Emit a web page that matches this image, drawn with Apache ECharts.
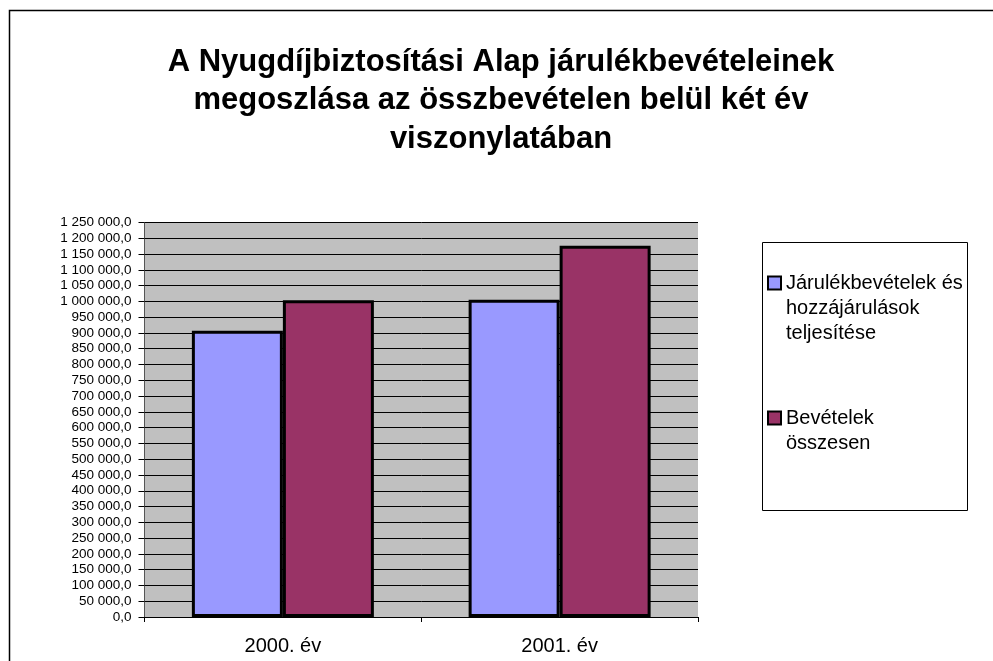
<!DOCTYPE html>
<html>
<head>
<meta charset="utf-8">
<title>Nyugdíjbiztosítási Alap</title>
<script src="https://cdn.jsdelivr.net/npm/echarts@6/dist/echarts.min.js"></script>
<style>
    html, body {margin: 0; padding: 0; background: #fff;}
    #bar_chart {width: 993px; height: 661px;}
</style>
</head>
<body>
<div id="bar_chart"></div>
<script>
//data
var categories = ['2000. év', '2001. év'];
var seriesNames = ['Járulékbevételek és hozzájárulások teljesítése', 'Bevételek összesen'];
var jarulekData = [907000, 1005000];
var osszesenData = [1004000, 1176000];
var yMin = 0;
var yMax = 1250000;
var yStep = 50000;

//number like "1 250 000,0"
var formatNum = function (v) {
    var s = Math.round(v).toString().replace(/\B(?=(\d{3})+(?!\d))/g, ' ');
    return s + ',0';
};

//oszlopdiagram
var barCharts = function () {
    var chart = echarts.init(document.getElementById('bar_chart'));
    var font = 'Arial, "Liberation Sans", sans-serif';
    var legendText = {fontFamily: font, fontSize: 20, lineHeight: 25, color: '#000'};
    var option = {
        backgroundColor: '#fff',
        animation: false,
        title: {
            text: 'A Nyugdíjbiztosítási Alap járulékbevételeinek\nmegoszlása az összbevételen belül két év\nviszonylatában',
            left: 496,
            textAlign: 'center',
            top: 38,
            textStyle: {
                fontFamily: font,
                fontWeight: 'bold',
                fontSize: 31,
                lineHeight: 38.5,
                color: '#000'
            }
        },
        color: ['#9999FF', '#993366'],
        // marker sits beside the first line, so pad with empty lines on top
        legend: [
            {
                data: [seriesNames[0]],
                orient: 'vertical',
                left: 767,
                top: 220.5,
                padding: 0,
                itemWidth: 13,
                itemHeight: 13,
                icon: 'rect',
                formatter: function () {
                    return '\n\nJárulékbevételek és\nhozzájárulások\nteljesítése';
                },
                textStyle: legendText
            },
            {
                data: [seriesNames[1]],
                orient: 'vertical',
                left: 767,
                top: 380.5,
                padding: 0,
                itemWidth: 13,
                itemHeight: 13,
                icon: 'rect',
                formatter: function () {
                    return '\nBevételek\nösszesen';
                },
                textStyle: legendText
            }
        ],
        grid: {
            left: 144.5,
            right: 295,
            top: 222.5,
            bottom: 44,
            show: true,
            backgroundColor: '#C0C0C0',
            borderWidth: 0
        },
        xAxis: {
            type: 'category',
            data: categories,
            axisLine: {lineStyle: {color: '#000', width: 1}},
            axisTick: {show: true, length: 5, lineStyle: {color: '#000'}},
            axisLabel: {fontFamily: font, fontSize: 20, color: '#000', margin: 19}
        },
        yAxis: {
            type: 'value',
            min: yMin,
            max: yMax,
            interval: yStep,
            axisLine: {show: true, lineStyle: {color: '#555', width: 1}},
            axisTick: {show: true, length: 6, lineStyle: {color: '#000'}},
            axisLabel: {
                fontFamily: font,
                fontSize: 13.5,
                color: '#000',
                margin: 13,
                formatter: formatNum
            },
            splitLine: {show: true, lineStyle: {color: '#000', width: 1}}
        },
        series: [
            {
                name: seriesNames[0],
                type: 'bar',
                barWidth: 91,
                barGap: '0%',
                data: jarulekData,
                itemStyle: {borderColor: '#000', borderWidth: 3}
            },
            {
                name: seriesNames[1],
                type: 'bar',
                barWidth: 91,
                barGap: '0%',
                data: osszesenData,
                itemStyle: {borderColor: '#000', borderWidth: 3}
            }
        ],
        graphic: [
            {
                type: 'rect',
                shape: {x: 9.5, y: 10.5, width: 1100, height: 800},
                style: {fill: 'none', stroke: '#000', lineWidth: 1.5},
                silent: true
            },
            {
                type: 'rect',
                shape: {x: 762.5, y: 242.5, width: 205, height: 268},
                style: {fill: 'none', stroke: '#000', lineWidth: 1},
                silent: true,
                z: -1
            }
        ]
    };
    chart.setOption(option);
};

barCharts();
</script>
</body>
</html>
